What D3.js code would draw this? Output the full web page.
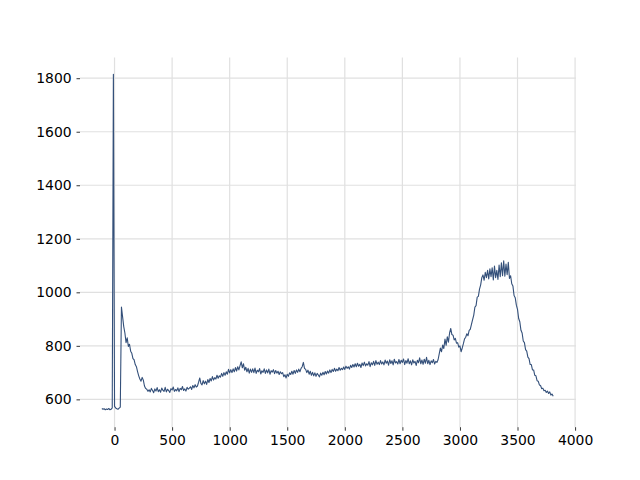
<!DOCTYPE html>
<html>
<head>
<meta charset="utf-8">
<script src="https://cdn.jsdelivr.net/npm/d3@7"></script>
<style>
  body { margin: 0; background: #fff; }
  svg { display: block; }
  .tick text { font-family: "DejaVu Sans", sans-serif; font-size: 13.9px; fill: #000; }
</style>
</head>
<body>
<svg id="chart" width="640" height="480"></svg>
<script>
// Sample grid of the series
const xStart = -110;
const xStep = 10;
// Series values (one per sample)
const values = [
  566, 563, 565, 561, 564, 562, 566, 561, 563, 568,
  1815,
  574, 568, 565, 563, 567, 571,
  945, 908, 872, 848, 812, 830, 798, 806, 780, 772, 752, 748, 730, 722, 704, 688, 676, 668, 682, 672, 650, 641, 638, 630,
  636, 628, 641, 633, 625, 639, 631, 644, 629, 636, 627, 642, 634, 630, 645, 628, 638, 633, 626, 640,
  635, 646, 630, 637, 632, 643, 629, 641, 636, 648, 633, 639, 631, 645, 638, 642,
  647, 637, 652, 643, 655, 646, 650, 664, 680, 660, 654, 670, 658, 668, 656, 674, 663, 678, 669, 685,
  672, 681, 676, 690, 679, 688, 683, 697, 686, 700, 690, 703, 694, 712,
  699, 711, 700, 714, 703, 719, 706, 722, 710, 726,
  740, 718, 733, 709, 720, 703, 716, 698, 713, 701,
  714, 700, 717, 697, 709, 703, 715, 695, 707, 701,
  714, 697, 710, 699, 713, 694, 707, 702, 711, 696,
  708, 698, 705, 693, 703, 696, 700, 685, 692, 680,
  694, 686, 699, 693, 705, 694, 708, 697, 710, 701,
  713, 703, 716, 722, 738, 716, 712, 700, 709, 694,
  705, 690, 701, 688, 699, 686, 697, 691, 684, 698,
  690, 701, 692, 704, 695, 706, 698, 710, 700, 712,
  704, 716, 705, 713, 707, 719, 709, 716, 711, 721,
  712, 724, 716, 722, 713, 727, 719, 730, 721, 733,
  722, 735, 724, 731, 719, 736, 726, 739, 725, 733,
  728, 741, 722, 737, 729, 742, 727, 745, 731, 739,
  730, 745, 732, 740, 729, 747, 735, 743, 728, 748,
  734, 744, 729, 750, 736, 741, 732, 749, 733, 746,
  738, 751, 730, 745, 735, 752, 733, 744, 729, 748,
  736, 742, 727, 746, 737, 755, 733, 747, 731, 750,
  735, 757, 733, 746, 730, 744, 737, 749, 732, 742,
  738, 748, 770, 792, 778, 803, 790, 825, 802, 834,
  814, 848, 865, 842, 840, 822, 828, 810, 812, 795,
  800, 778, 792, 808, 826, 832, 845, 838, 858, 862,
  880, 898, 915, 945, 950, 982, 985, 1012, 1028, 1055,
  1065, 1045, 1075, 1055, 1082, 1050, 1088, 1058, 1092, 1046,
  1098, 1055, 1082, 1048, 1102, 1058, 1110, 1062, 1118, 1060,
  1106, 1066, 1112, 1052, 1062, 1032, 1024, 988, 980, 952,
  936, 902, 890, 858, 848, 818, 812, 786, 780, 758,
  752, 730, 730, 710, 710, 690, 688, 670, 668, 654,
  652, 640, 642, 632, 634, 626, 631, 622, 628, 616,
  620, 612
];
const xTicks = [0, 500, 1000, 1500, 2000, 2500, 3000, 3500, 4000];
const yTicks = [600, 800, 1000, 1200, 1400, 1600, 1800];

const data = values.map((v, i) => ({ x: xStart + i * xStep, y: v }));

const svg = d3.select("#chart");
const mLeft = 80, mTop = 57.6, pw = 496, ph = 369.6;

const x = d3.scaleLinear().domain([-300, 4008]).range([mLeft, mLeft + pw]);
const y = d3.scaleLinear().domain([496, 1877]).range([mTop + ph, mTop]);

// Grid
const g = svg.append("g");
g.selectAll("line.vg").data(xTicks).join("line")
  .attr("x1", d => x(d)).attr("x2", d => x(d))
  .attr("y1", mTop).attr("y2", mTop + ph)
  .attr("stroke", "#e0e0e0").attr("stroke-width", 1.2);
g.selectAll("line.hg").data(yTicks).join("line")
  .attr("y1", d => y(d)).attr("y2", d => y(d))
  .attr("x1", mLeft).attr("x2", mLeft + pw)
  .attr("stroke", "#e0e0e0").attr("stroke-width", 1.2);

// Axes
const xAxis = d3.axisBottom(x).tickValues(xTicks).tickSize(3.5).tickPadding(4.9).tickFormat(d3.format("d"));
const yAxis = d3.axisLeft(y).tickValues(yTicks).tickSize(3.5).tickPadding(4.9).tickFormat(d3.format("d"));

const gx = svg.append("g").attr("transform", `translate(0,${mTop + ph})`).call(xAxis);
const gy = svg.append("g").attr("transform", `translate(${mLeft},0)`).call(yAxis);
[gx, gy].forEach(a => {
  a.select(".domain").remove();
  a.selectAll(".tick line").attr("stroke", "#000").attr("stroke-width", 0.8);
});

// Line
const line = d3.line().x(d => x(d.x)).y(d => y(d.y));
svg.append("path").datum(data)
  .attr("fill", "none")
  .attr("stroke", "#34507a")
  .attr("stroke-width", 1.1)
  .attr("stroke-linejoin", "round")
  .attr("d", line);
</script>
</body>
</html>
